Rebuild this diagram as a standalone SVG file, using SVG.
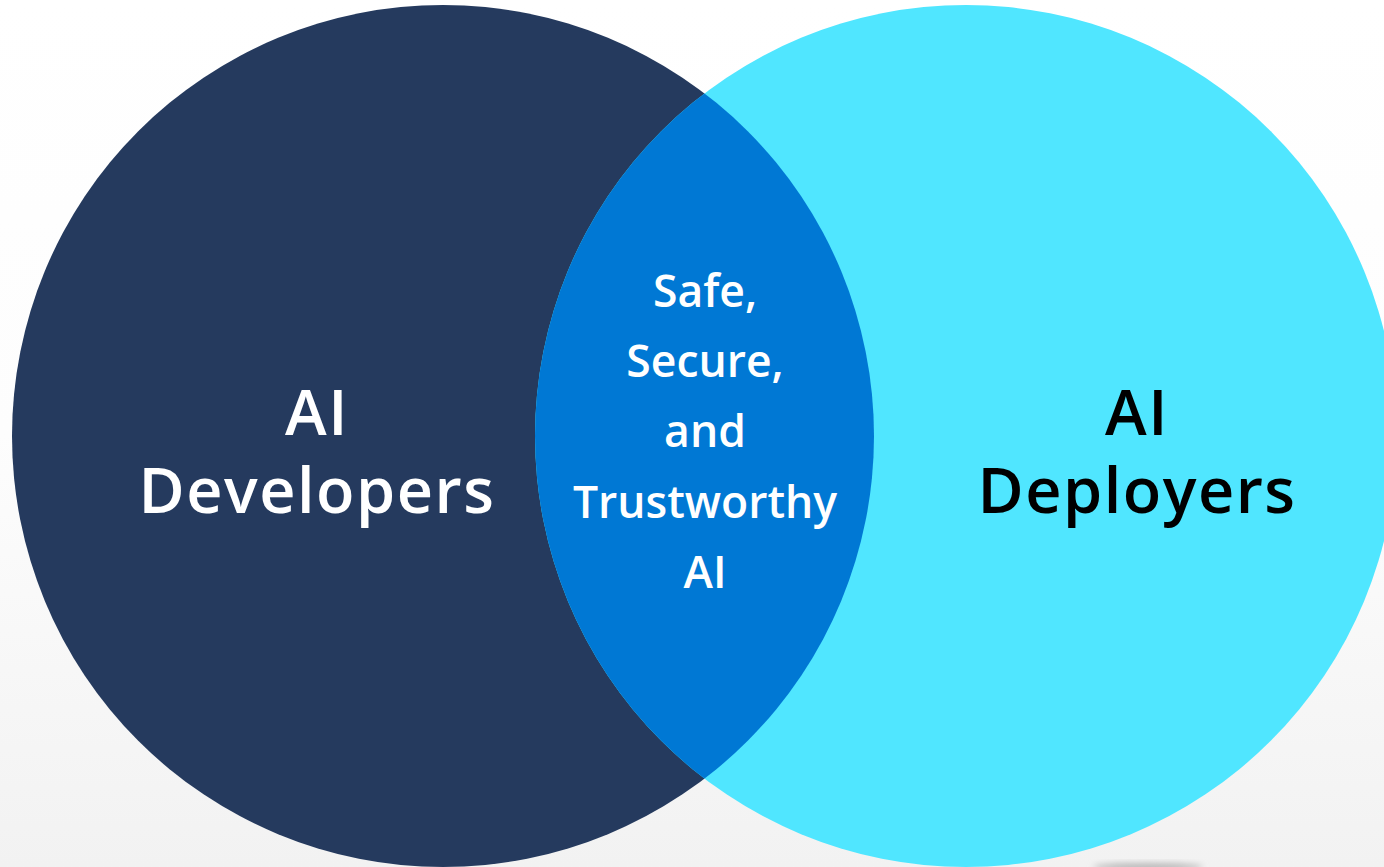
<svg xmlns="http://www.w3.org/2000/svg" width="1384" height="867" viewBox="0 0 1384 867">
  <defs>
    <linearGradient id="bg" x1="0" y1="0" x2="0" y2="1">
      <stop offset="0" stop-color="#FFFFFF"/>
      <stop offset="0.5" stop-color="#FDFDFD"/>
      <stop offset="1" stop-color="#F2F2F2"/>
    </linearGradient>
    <clipPath id="leftClip">
      <circle cx="443" cy="436" r="431"/>
    </clipPath>
    <filter id="blur" x="-50%" y="-50%" width="200%" height="200%">
      <feGaussianBlur stdDeviation="3"/>
    </filter>
    <style>
      .lbl { font-family: "Open Sans", "Noto Sans", "Liberation Sans", sans-serif; text-anchor: middle; }
      .big { font-size: 63px; font-weight: 600; letter-spacing: 1.5px; }
      .mid { font-size: 44.5px; font-weight: 600; fill: #FFFFFF; }
    </style>
  </defs>
  <rect x="0" y="0" width="1384" height="867" fill="url(#bg)"/>
  <ellipse cx="1148" cy="867" rx="55" ry="4" fill="#B8B8B8" filter="url(#blur)"/>

  <g id="developers">
    <circle cx="443" cy="436" r="431" fill="#253A5E"/>
    <text class="lbl big" x="317" y="435" fill="#FFFFFF">AI</text>
    <text class="lbl big" x="317" y="513" fill="#FFFFFF">Developers</text>
  </g>

  <g id="deployers">
    <circle cx="966" cy="436" r="431" fill="#50E6FF"/>
    <text class="lbl big" x="1137" y="435" fill="#000000">AI</text>
    <text class="lbl big" x="1137" y="513" fill="#000000">Deployers</text>
  </g>

  <g id="intersection">
    <circle cx="966" cy="436" r="431" fill="#0078D4" clip-path="url(#leftClip)"/>
    <text class="lbl mid" x="705" y="307">Safe,</text>
    <text class="lbl mid" x="705" y="377">Secure,</text>
    <text class="lbl mid" x="705" y="447">and</text>
    <text class="lbl mid" x="705" y="518">Trustworthy</text>
    <text class="lbl mid" x="705" y="588">AI</text>
  </g>

  <g id="connectors"></g>
</svg>
